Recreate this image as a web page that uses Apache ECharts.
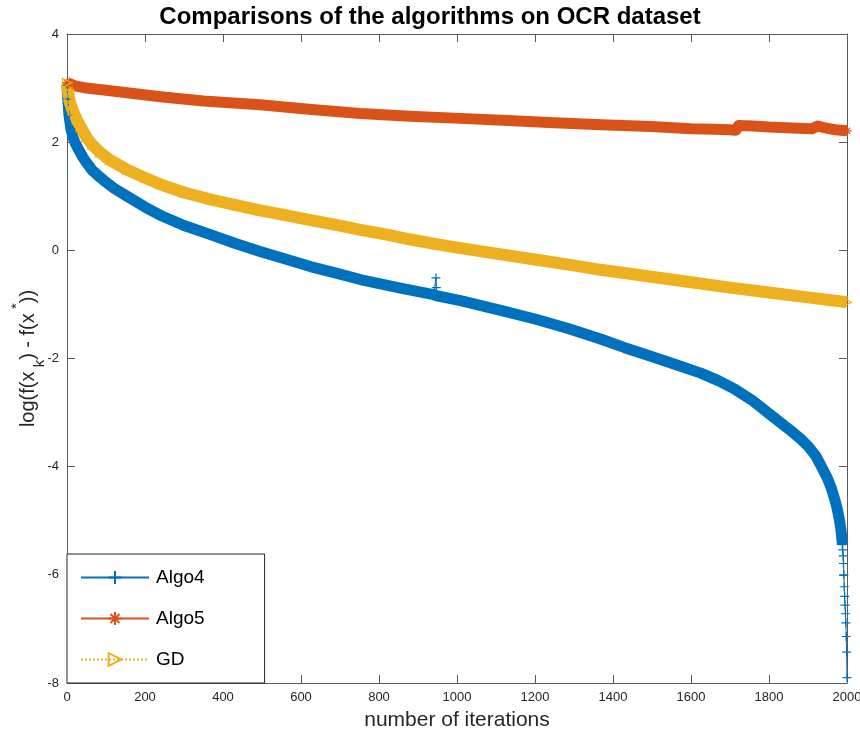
<!DOCTYPE html>
<html><head><meta charset="utf-8">
<script src="https://cdn.jsdelivr.net/npm/echarts@6/dist/echarts.min.js"></script>
<style>html,body{margin:0;padding:0;background:#fff}#c{width:860px;height:730px}</style>
</head><body><div id="c"></div>
<script>
// ---- data ----
const TITLE = 'Comparisons of the algorithms on OCR dataset';
const X_NAME = 'number of iterations';
const SERIES_NAMES = ['Algo4', 'Algo5', 'GD'];
const X_MIN = 0, X_MAX = 2000, X_STEP = 200;
const Y_MIN = -8, Y_MAX = 4, Y_STEP = 2;

const ALGO4_ITER = [0,2,5,10,15,20,30,40,50,65,85,100,120,154,200,239,300,368,430,495,560,624,690,752,855,940,946,947,948,1009,1112,1200,1287,1368,1430,1497,1560,1625,1670,1711,1760,1800,1850,1880,1900,1920,1936,1950,1960,1970,1975,1980,1982,1984,1985,1986,1987,1988,1989,1990,1991,1992,1993,1994,1995,1996,1997,1998,1999,2000];
const ALGO4_VAL  = [3.05,2.8,2.5,2.25,2.1,2.0,1.86,1.73,1.62,1.48,1.35,1.26,1.15,1.0,0.8,0.65,0.46,0.29,0.13,-0.02,-0.16,-0.30,-0.42,-0.54,-0.70,-0.82,-0.51,-0.69,-0.84,-0.93,-1.11,-1.27,-1.45,-1.64,-1.80,-1.96,-2.11,-2.27,-2.41,-2.56,-2.79,-3.02,-3.30,-3.48,-3.62,-3.80,-4.02,-4.22,-4.40,-4.64,-4.78,-4.96,-5.05,-5.15,-5.20,-5.27,-5.35,-5.44,-5.54,-5.65,-5.79,-6.00,-6.22,-6.40,-6.56,-6.72,-6.89,-7.14,-7.43,-7.90];
const ALGO4_OUTLIER_ITER = [946, 947];   // isolated spike, thin line only
const ALGO4_BAND_END = 1988;             // beyond this the markers separate

const ALGO5_ITER = [0,5,20,50,100,170,239,350,495,620,752,880,1009,1130,1250,1370,1497,1600,1660,1700,1715,1722,1760,1800,1860,1910,1925,1940,1970,2000];
const ALGO5_VAL  = [3.1,3.07,3.04,3.0,2.96,2.9,2.84,2.76,2.69,2.61,2.53,2.48,2.44,2.40,2.36,2.32,2.29,2.25,2.24,2.23,2.22,2.31,2.30,2.28,2.26,2.25,2.30,2.27,2.23,2.21];

const GD_ITER = [0,3,6,10,15,25,35,50,65,85,110,154,200,239,300,368,430,495,560,624,690,752,820,881,950,1009,1100,1200,1290,1368,1480,1600,1700,1800,1900,2000];
const GD_VAL  = [3.1,2.92,2.78,2.68,2.58,2.42,2.28,2.09,1.95,1.81,1.67,1.49,1.34,1.22,1.07,0.94,0.84,0.74,0.65,0.56,0.47,0.38,0.29,0.2,0.11,0.04,-0.06,-0.17,-0.27,-0.36,-0.47,-0.59,-0.69,-0.78,-0.87,-0.96];

// ---- styling ----
const BLUE = '#0072BD', ORANGE = '#D95319', GOLD = '#EDB120';
const FONT = '"Liberation Sans", Arial, Helvetica, sans-serif';
const AXIS_COLOR = '#5a5a5a', TEXT_COLOR = '#262626';

const pairs = (it, v) => it.map((x, i) => [x, v[i]]);
const a4 = pairs(ALGO4_ITER, ALGO4_VAL);
const a4Band = a4.filter(p => p[0] <= ALGO4_BAND_END && ALGO4_OUTLIER_ITER.indexOf(p[0]) < 0);
const a5 = pairs(ALGO5_ITER, ALGO5_VAL);
const gd = pairs(GD_ITER, GD_VAL);

const PLUS = 'path://M5,0L5,10M0,5L10,5';
const STAR = 'path://M5,0L5,10M0,5L10,5M1.5,1.5L8.5,8.5M1.5,8.5L8.5,1.5';
const TRI = 'path://M0,0L10,5L0,10Z';

function band(name, data, color, width) {
  return { name: name + ' band', type: 'line', data, showSymbol: false, silent: true,
    clip: false, lineStyle: { color, width, cap: 'butt', join: 'round' }, itemStyle: { color },
    emphasis: { disabled: true }, animation: false, z: 2 };
}
function marked(name, data, color, symbol, fill, lineType) {
  return { name, type: 'line', data, symbol, symbolSize: 9, symbolKeepAspect: true,
    showSymbol: true, showAllSymbol: true, clip: false,
    lineStyle: { color, width: 1, type: lineType },
    itemStyle: { color: fill, borderColor: color, borderWidth: 1.2 },
    emphasis: { disabled: true }, animation: false, z: 3 };
}

const tickAxisCommon = {
  axisLine: { show: true, onZero: false, lineStyle: { color: AXIS_COLOR, width: 1 } },
  axisTick: { show: true, inside: true, length: 8, lineStyle: { color: AXIS_COLOR, width: 1 } },
  splitLine: { show: false }
};
const plain = v => String(v);

const chart = echarts.init(document.getElementById('c'), null, { renderer: 'canvas' });
chart.setOption({
  backgroundColor: '#fff',
  animation: false,
  title: { text: TITLE, left: 'center', top: 2, padding: [3, 0, 3, 16],
    textStyle: { fontFamily: FONT, fontSize: 24, fontWeight: 'bold', color: '#000' } },
  grid: { left: 67, right: 13, top: 34, bottom: 47, containLabel: false, outerBoundsMode: 'none' },
  xAxis: [
    Object.assign({ type: 'value', min: X_MIN, max: X_MAX, interval: X_STEP, position: 'bottom',
      name: X_NAME, nameLocation: 'middle', nameGap: 27, nameMoveOverlap: false,
      nameTextStyle: { fontFamily: FONT, fontSize: 21, color: TEXT_COLOR },
      axisLabel: { fontFamily: FONT, fontSize: 13, color: TEXT_COLOR, margin: 8, formatter: plain } }, tickAxisCommon),
    Object.assign({ type: 'value', min: X_MIN, max: X_MAX, interval: X_STEP, position: 'top',
      axisLabel: { show: false } }, tickAxisCommon)
  ],
  yAxis: [
    Object.assign({ type: 'value', min: Y_MIN, max: Y_MAX, interval: Y_STEP, position: 'left',
      name: '{a|log(f(x}{b| k}{a|) - f(x}{c| *}{a|))}', nameLocation: 'middle', nameRotate: 90, nameGap: 20,
      nameMoveOverlap: false,
      nameTextStyle: { fontFamily: FONT, color: TEXT_COLOR,
        rich: {
          a: { fontFamily: FONT, fontSize: 20, lineHeight: 38, color: TEXT_COLOR, verticalAlign: 'middle' },
          b: { fontFamily: FONT, fontSize: 15, lineHeight: 16, color: TEXT_COLOR, verticalAlign: 'bottom' },
          c: { fontFamily: FONT, fontSize: 15, lineHeight: 16, color: TEXT_COLOR, verticalAlign: 'top' }
        } },
      axisLabel: { fontFamily: FONT, fontSize: 13, color: TEXT_COLOR, margin: 8, formatter: plain } }, tickAxisCommon),
    Object.assign({ type: 'value', min: Y_MIN, max: Y_MAX, interval: Y_STEP, position: 'right',
      axisLabel: { show: false } }, tickAxisCommon)
  ],
  legend: {
    data: SERIES_NAMES, orient: 'vertical', left: 67, bottom: 47,
    backgroundColor: '#fff', borderColor: '#262626', borderWidth: 1, borderRadius: 0,
    padding: [14, 60, 14, 13], itemGap: 22, itemWidth: 68, itemHeight: 16,
    textStyle: { fontFamily: FONT, fontSize: 19, color: '#000', lineHeight: 18, padding: [0, 0, 0, 2] },
    selectedMode: false, z: 10
  },
  series: [
    band('Algo4', a4Band, BLUE, 11),
    marked('Algo4', a4, BLUE, PLUS, BLUE, 'solid'),
    band('Algo5', a5, ORANGE, 11),
    marked('Algo5', a5, ORANGE, STAR, ORANGE, 'solid'),
    band('GD', gd, GOLD, 12),
    marked('GD', gd, GOLD, TRI, 'rgba(255,255,255,0)', 'dotted')
  ]
});
</script>
</body></html>
